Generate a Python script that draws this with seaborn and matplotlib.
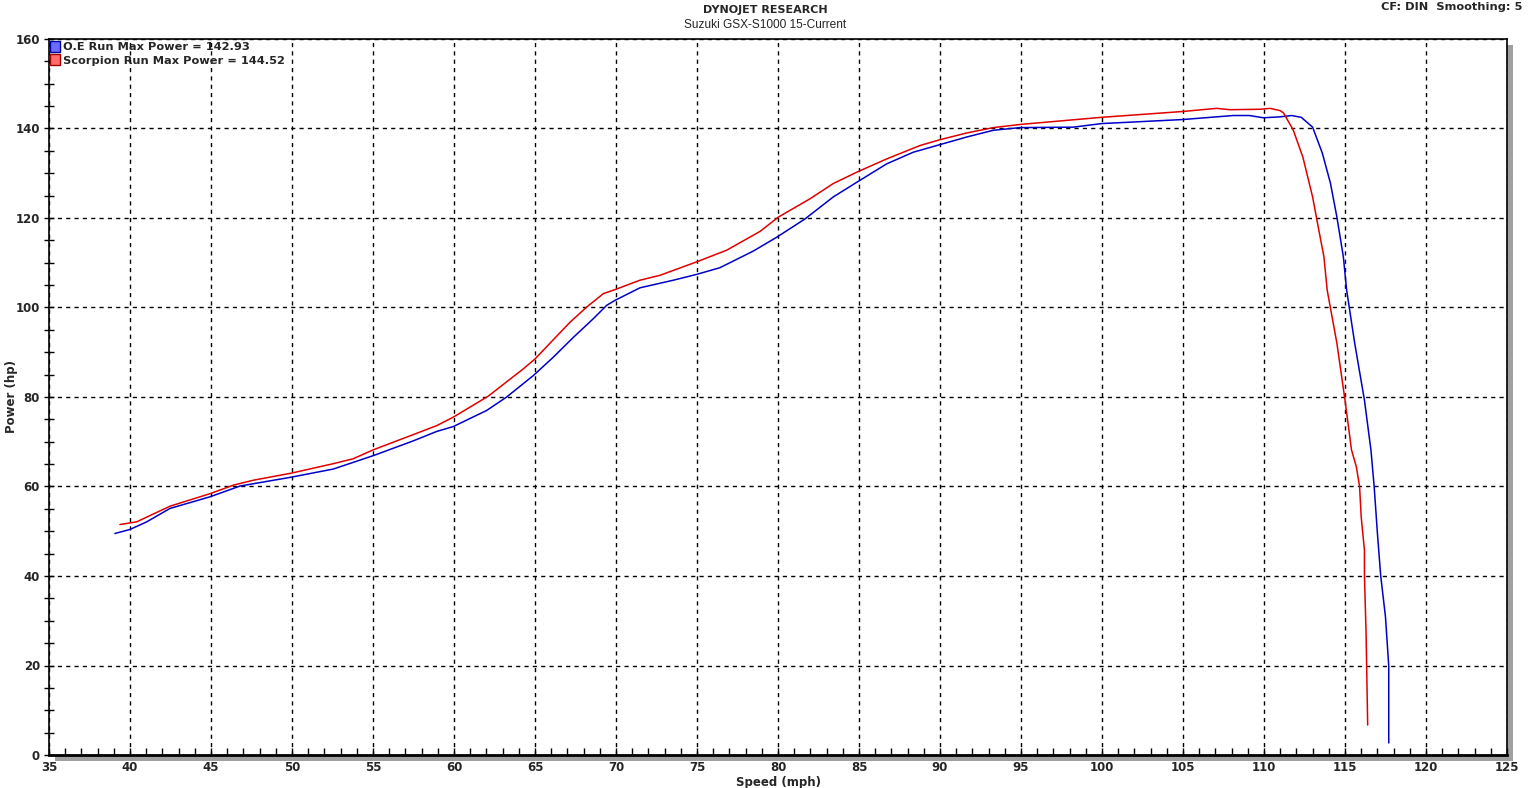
import pandas as pd
import matplotlib
matplotlib.use('Agg')
import matplotlib.pyplot as plt
from matplotlib.patches import Patch, FancyBboxPatch
from matplotlib.ticker import MultipleLocator
import seaborn as sns

sns.set_style('white')
plt.rcParams['font.family'] = ['DejaVu Sans']

# O.E run (blue)
oe_speed = [39.07, 40.0, 41.03, 42.47, 44.94, 46.79, 49.98, 52.55, 55.02, 57.49, 58.93, 59.96,
            62.02, 63.25, 64.9, 66.13, 67.36, 68.6, 69.43, 69.94, 71.48, 73.54, 74.98, 76.42,
            78.47, 78.89, 79.92, 81.67, 83.41, 84.96, 86.71, 88.35, 90.0, 91.65, 93.29, 94.94,
            98.23, 99.98, 104.98, 108.1, 109.1, 109.96, 110.99, 111.7, 112.3, 113.0, 113.6,
            114.1, 114.5, 114.9, 115.1, 115.6, 116.2, 116.6, 116.8, 117.0, 117.2, 117.5, 117.7,
            117.7]
oe_power = [49.5, 50.4, 52.1, 55.1, 57.7, 60.1, 62.1, 63.9, 66.9, 70.2, 72.3, 73.4,
            77.0, 80.0, 84.8, 88.9, 93.3, 97.5, 100.5, 101.6, 104.4, 106.1, 107.4, 108.9,
            112.6, 113.5, 115.7, 119.8, 124.7, 128.2, 132.1, 134.7, 136.4, 138.1, 139.6, 140.2,
            140.3, 141.1, 142.0, 142.9, 142.9, 142.4, 142.6, 142.9, 142.5, 140.3, 134.5,
            127.8, 120.2, 111.3, 103.9, 92.0, 79.3, 68.2, 60.0, 49.6, 40.2, 30.8, 19.9,
            2.7]

# Scorpion run (red)
sc_speed = [39.38, 40.41, 42.47, 44.94, 46.38, 47.61, 49.98, 52.55, 53.78, 55.02, 57.49, 58.93,
            59.96, 62.12, 64.28, 65.0, 66.13, 67.16, 68.19, 69.22, 69.94, 71.48, 72.72, 74.98,
            76.83, 78.89, 80.02, 81.98, 83.41, 84.96, 86.71, 88.77, 90.0, 91.65, 93.29, 94.94,
            99.98, 104.98, 107.08, 107.9, 109.76, 110.38, 110.99, 111.2, 111.8, 112.4, 113.0,
            113.3, 113.7, 113.9, 114.5, 115.0, 115.4, 115.7, 115.9, 116.0, 116.2, 116.2, 116.3,
            116.4]
sc_power = [51.5, 52.1, 55.6, 58.4, 60.3, 61.4, 63.0, 65.1, 66.2, 68.2, 71.6, 73.6,
            75.5, 80.2, 86.3, 88.5, 92.8, 96.7, 100.1, 103.1, 104.0, 106.1, 107.2, 110.2,
            112.8, 117.0, 120.2, 124.3, 127.7, 130.4, 133.2, 136.2, 137.5, 139.0, 140.2, 140.9,
            142.5, 143.8, 144.5, 144.2, 144.3, 144.5, 144.0, 143.5, 139.7, 133.6, 124.7,
            118.9, 111.3, 103.9, 92.0, 79.3, 68.2, 64.4, 60.0, 53.2, 45.8, 40.2, 27.3,
            6.7]

labels = ['O.E Run Max Power = 142.93', 'Scorpion Run Max Power = 144.52']
line_colors = ['#0000c8', '#e00000']
box_colors = [('#6b6bff', '#0000a0'), ('#ff6b6b', '#a00000')]

df = pd.concat([
    pd.DataFrame({'speed': oe_speed, 'power': oe_power, 'run': 'oe'}),
    pd.DataFrame({'speed': sc_speed, 'power': sc_power, 'run': 'sc'}),
])

W, H = 1530, 788
fig = plt.figure(figsize=(W / 100, H / 100), dpi=100)
ax = fig.add_axes([49 / W, 1 - 755 / H, (1507 - 49) / W, (755 - 39) / H])

# grey drop shadow behind the plot frame
shadow = FancyBboxPatch((49 / W + 6 / W, 1 - 755 / H - 6 / H), (1507 - 49) / W, (755 - 39) / H,
                        boxstyle='square,pad=0', transform=fig.transFigure,
                        facecolor='#a0a0a0', edgecolor='none', zorder=-1)
fig.patches.append(shadow)

for run, col in zip(['oe', 'sc'], line_colors):
    sns.lineplot(data=df[df['run'] == run], x='speed', y='power', sort=False, estimator=None,
                 color=col, linewidth=1.1, ax=ax, legend=False)

ax.set_xlim(35, 125)
ax.set_ylim(0, 160)
ax.xaxis.set_major_locator(MultipleLocator(5))
ax.xaxis.set_minor_locator(MultipleLocator(1))
ax.yaxis.set_major_locator(MultipleLocator(20))
ax.yaxis.set_minor_locator(MultipleLocator(5))
ax.grid(True, which='major', color='black', linestyle=(0, (3, 3)), linewidth=1)
ax.set_axisbelow(True)

ax.tick_params(axis='x', which='both', direction='in', length=5, width=1, color='black',
               labelsize=8.5, pad=4, bottom=True)
ax.tick_params(axis='y', which='both', direction='inout', length=7, width=1, color='black',
               labelsize=8.5, pad=3, left=True)
for lab in ax.get_xticklabels() + ax.get_yticklabels():
    lab.set_fontweight('bold')

for s in ['top', 'right', 'bottom', 'left']:
    ax.spines[s].set_color('black')
    ax.spines[s].set_linewidth(1.2)
ax.spines['bottom'].set_linewidth(2)

ax.set_xlabel('Speed (mph)', fontsize=8.5, fontweight='bold', labelpad=2)
ax.set_ylabel('Power (hp)', fontsize=8.5, fontweight='bold')
ax.yaxis.set_label_coords(-0.0215, 0.5)

handles = [Patch(facecolor=f, edgecolor=e, linewidth=1) for f, e in box_colors]
leg = ax.legend(handles, labels, loc='upper left', bbox_to_anchor=(-0.004, 1.007), frameon=False,
                handlelength=0.85, handleheight=1.1, handletextpad=0.25, labelspacing=0.2,
                borderaxespad=0.2, prop={'weight': 'bold', 'size': 8.2})

fig.text(765 / W, 1 - 10 / H, 'DYNOJET RESEARCH', ha='center', va='center',
         fontsize=8, fontweight='bold')
fig.text(765 / W, 1 - 25 / H, 'Suzuki GSX-S1000 15-Current', ha='center', va='center',
         fontsize=8.6, family='Liberation Sans')
fig.text(1522 / W, 1 - 7 / H, 'CF: DIN  Smoothing: 5', ha='right', va='center',
         fontsize=8.2, fontweight='bold')

fig.savefig('out.png', dpi=100, facecolor='white')
